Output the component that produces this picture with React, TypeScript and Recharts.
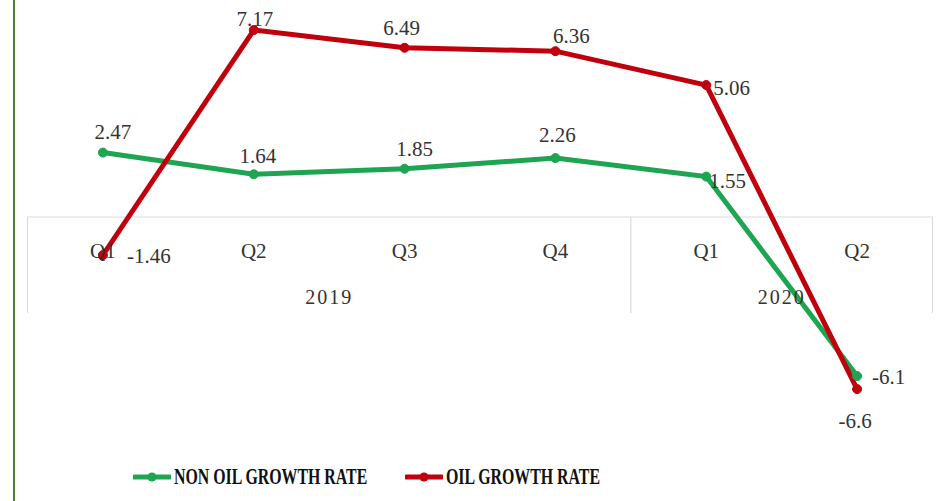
import React from "react";
import { LineChart, Line, XAxis, YAxis, ReferenceLine, ReferenceDot, Legend } from "recharts";

const quarters = ["Q1", "Q2", "Q3", "Q4", "Q1", "Q2"];
const years = ["2019", "2020"];
const yearCenters = [1.5, 4.5];
const yearDividers = [-0.5, 3.5, 5.5];
const nonOilGrowth = [2.47, 1.64, 1.85, 2.26, 1.55, -6.1];
const oilGrowth = [-1.46, 7.17, 6.49, 6.36, 5.06, -6.6];

const GREEN = "#1ea552";
const RED = "#c0000c";
const FONT = "'Liberation Serif', 'DejaVu Serif', serif";

const data = quarters.map((q, i) => ({
  i,
  q,
  nonOil: nonOilGrowth[i],
  oil: oilGrowth[i],
}));

// label placement per point: [dx, dy] relative to point, text-anchor
const nonOilPos: [number, number, string][] = [
  [10, -21, "middle"],
  [4, -18, "middle"],
  [10, -20, "middle"],
  [2, -23, "middle"],
  [3, 4, "start"],
  [15, 1, "start"],
];
const oilPos: [number, number, string][] = [
  [24, 1, "start"],
  [1, -11, "middle"],
  [-3, -20, "middle"],
  [16, -15, "middle"],
  [7, 3, "start"],
  [-2, 32, "middle"],
];

const makeLabel = (pos: [number, number, string][]) => (props: any) => {
  const { x, y, value, index } = props;
  const p = pos[index] || [0, -12, "middle"];
  return (
    <text
      x={x + p[0]}
      y={y + p[1]}
      textAnchor={p[2] as any}
      dominantBaseline="central"
      fontFamily={FONT}
      fontSize={21}
      fill="#333"
    >
      {value}
    </text>
  );
};

const LegendContent = () => {
  const item = (color: string, text: string, left: number) => (
    <div style={{ position: "absolute", top: 0, left, display: "flex", alignItems: "center", height: 24 }}>
      <svg width={38} height={12} style={{ flex: "none" }}>
        <line x1={1} y1={6} x2={37} y2={6} stroke={color} strokeWidth={5} strokeLinecap="round" />
        <circle cx={19} cy={6} r={4.5} fill={color} />
      </svg>
      <span
        style={{
          display: "inline-block",
          fontFamily: FONT,
          fontWeight: "bold",
          fontSize: 23,
          lineHeight: "24px",
          color: "#111",
          marginLeft: 3,
          whiteSpace: "nowrap",
          transform: "scaleX(0.69)",
          transformOrigin: "left center",
        }}
      >
        {text}
      </span>
    </div>
  );
  return (
    <div style={{ height: 75, width: 943, position: "relative" }}>
      <div style={{ position: "absolute", top: 39, left: 0, width: 943, height: 24 }}>
        {item(GREEN, "NON OIL GROWTH RATE", 133)}
        {item(RED, "OIL GROWTH RATE", 405)}
      </div>
    </div>
  );
};

export default function App() {
  return (
    <div
      style={{
        position: "absolute",
        left: 0,
        top: 0,
        width: 943,
        height: 501,
        background: "#fff",
        overflow: "hidden",
      }}
    >
      <div
        style={{
          position: "absolute",
          left: 13,
          top: 0,
          width: 2,
          height: 501,
          background: "#4f7f2f",
        }}
      />
      <LineChart
        width={943}
        height={501}
        data={data}
        margin={{ top: 8.4, right: 10.5, bottom: 0.4, left: 27.5 }}
      >
        <XAxis type="number" dataKey="i" domain={[-0.5, 5.5]} hide />
        <YAxis type="number" domain={[-8, 8]} hide />
        <ReferenceLine y={0} stroke="#d9d9d9" strokeWidth={1.2} />
        {yearDividers.map((x, k) => (
          <ReferenceLine
            key={"d" + k}
            segment={[
              { x, y: 0 },
              { x, y: -3.68 },
            ]}
            stroke="#d9d9d9"
            strokeWidth={1.2}
          />
        ))}
        {quarters.map((q, i) => (
          <ReferenceDot
            key={"q" + i}
            x={i}
            y={-1.27}
            r={0}
            fill="none"
            stroke="none"
            label={{ value: q, position: "center", fontFamily: FONT, fontSize: 21, fill: "#333" }}
          />
        ))}
        {years.map((yr, k) => (
          <ReferenceDot
            key={"y" + k}
            x={yearCenters[k]}
            y={-3.07}
            r={0}
            fill="none"
            stroke="none"
            label={{
              value: yr,
              position: "center",
              fontFamily: FONT,
              fontSize: 20,
              letterSpacing: 2,
              fill: "#333",
            }}
          />
        ))}
        <Line
          type="linear"
          dataKey="nonOil"
          name="NON OIL GROWTH RATE"
          stroke={GREEN}
          strokeWidth={5}
          dot={{ r: 4.5, fill: GREEN, stroke: GREEN, strokeWidth: 1 }}
          label={makeLabel(nonOilPos)}
          isAnimationActive={false}
        />
        <Line
          type="linear"
          dataKey="oil"
          name="OIL GROWTH RATE"
          stroke={RED}
          strokeWidth={5}
          dot={{ r: 4.5, fill: RED, stroke: RED, strokeWidth: 1 }}
          label={makeLabel(oilPos)}
          isAnimationActive={false}
        />
        <Legend
          verticalAlign="bottom"
          content={<LegendContent />}
          wrapperStyle={{ left: 0, width: 943 }}
        />
      </LineChart>
    </div>
  );
}
